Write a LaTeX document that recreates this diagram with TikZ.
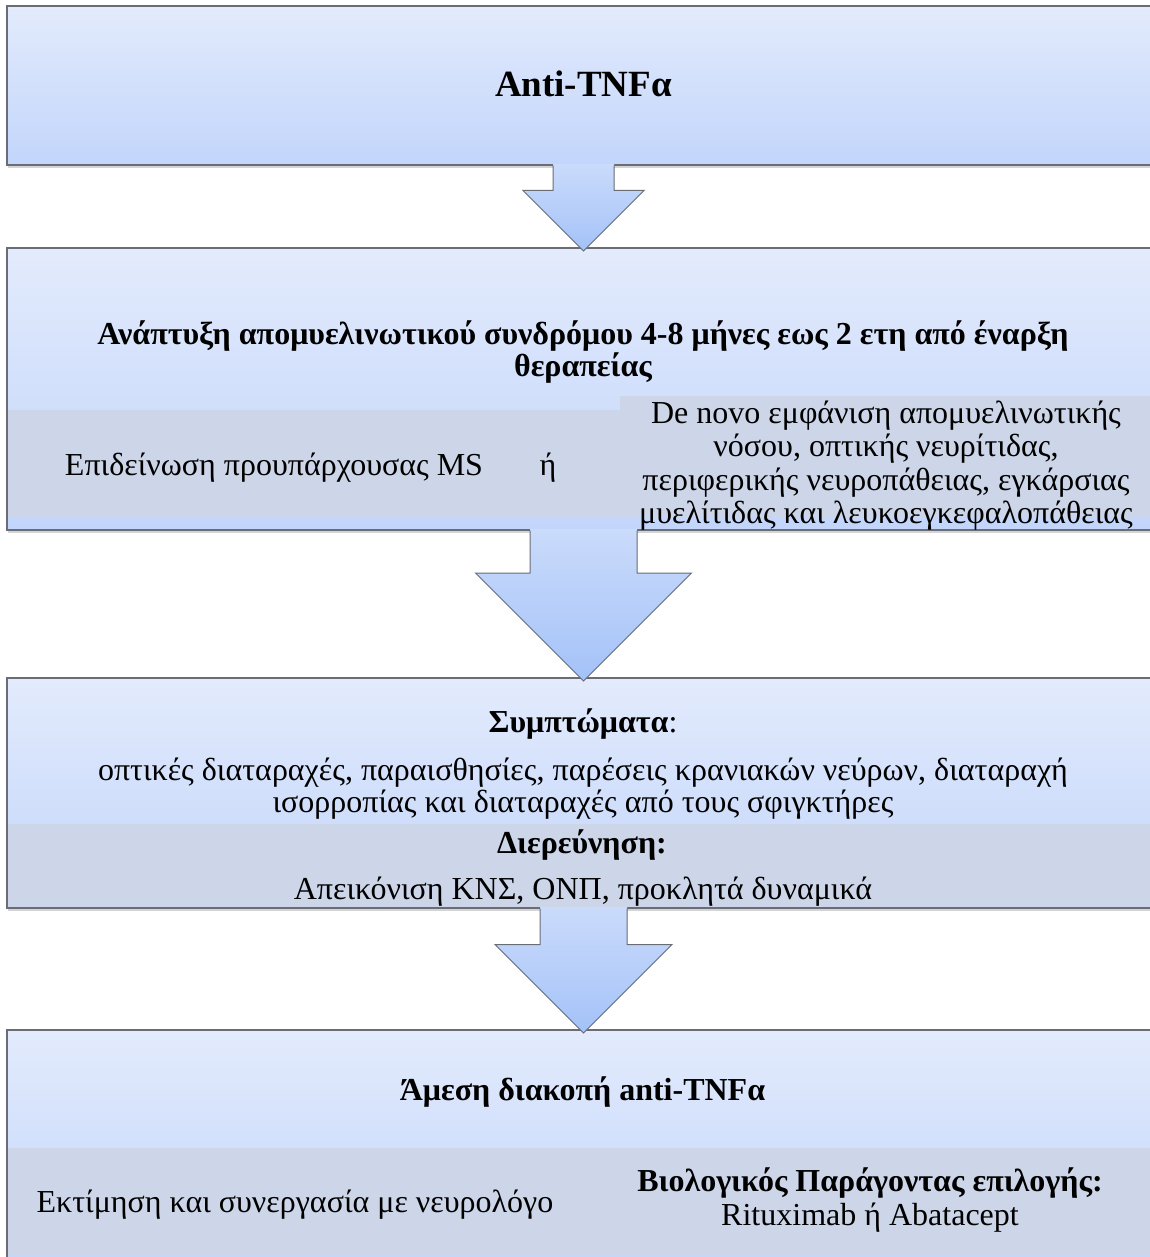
\documentclass[tikz,border=0pt]{standalone}
\usepackage{fontspec}
\setmainfont{Liberation Serif}
\usetikzlibrary{calc,shadows}
\definecolor{boxtop}{HTML}{E3EBFC}
\definecolor{boxbot}{HTML}{C2D5FB}
\definecolor{bandc}{HTML}{CDD6E9}
\definecolor{arrtop}{HTML}{CADBFB}
\definecolor{arrbot}{HTML}{A4C2F8}
\definecolor{edgec}{HTML}{6A6D76}

% block arrow from the bottom of box #1 to the top of box #2;
% #3 = half width of the shaft, #4 = half width (and height) of the head
\newcommand\flowarrow[4]{%
  \path[fill=black,opacity=.18,xshift=2pt,yshift=-2pt]
    let \p1=(#1.south), \p2=(#2.north) in
    (\x1-#3,\y1) -- (\x1-#3,\y2-3pt+#4) -- (\x1-#4,\y2-3pt+#4) -- (\x1,\y2-3pt)
    -- (\x1+#4,\y2-3pt+#4) -- (\x1+#3,\y2-3pt+#4) -- (\x1+#3,\y1) -- cycle;
  \shade[top color=arrtop,bottom color=arrbot]
    let \p1=(#1.south), \p2=(#2.north) in
    (\x1-#3,\y1+0.8pt) -- (\x1-#3,\y2-3pt+#4) -- (\x1-#4,\y2-3pt+#4) -- (\x1,\y2-3pt)
    -- (\x1+#4,\y2-3pt+#4) -- (\x1+#3,\y2-3pt+#4) -- (\x1+#3,\y1+0.8pt) -- cycle;
  \draw[edgec,line width=1pt,line join=miter]
    let \p1=(#1.south), \p2=(#2.north) in
    (\x1-#3,\y1-0.6pt) -- (\x1-#3,\y2-3pt+#4) -- (\x1-#4,\y2-3pt+#4) -- (\x1,\y2-3pt)
    -- (\x1+#4,\y2-3pt+#4) -- (\x1+#3,\y2-3pt+#4) -- (\x1+#3,\y1-0.6pt);
}

\begin{document}
\begin{tikzpicture}[x=1pt,y=-1pt,
  flowbox/.style={rectangle,inner sep=0pt,outer sep=0pt,minimum width=1153pt,
    top color=boxtop,bottom color=boxbot,draw=edgec,line width=1.1pt,
    drop shadow={shadow xshift=1pt,shadow yshift=-3pt,opacity=.3,fill=black!55}},
  txt/.style={anchor=base,inner sep=0pt,font=\fontsize{32}{34}\selectfont},
  btxt/.style={txt,font=\fontsize{32}{34}\selectfont\bfseries},
]
\useasboundingbox (0,0) rectangle (1150,1257);
\clip (0,0) rectangle (1150,1257);
\fill[white] (0,0) rectangle (1150,1257);

% the four stages
\node[flowbox,minimum height=159pt] (b1) at (583.5,85.5) {};
\node[flowbox,minimum height=282pt] (b2) at (583.5,389) {};
\node[flowbox,minimum height=230pt] (b3) at (583.5,793) {};
\node[flowbox,minimum height=232pt] (b4) at (583.5,1146) {};

% grey sub-panels inside the stages
\fill[bandc] (7.6,410) rectangle (1160,518);
\fill[bandc] (620,396) rectangle (1160,518);
\fill[bandc] (7.6,824) rectangle (1160,907.4);
\fill[bandc] (7.6,1148) rectangle (1160,1255);

% connectors
\flowarrow{b1}{b2}{30.5pt}{60.5pt}
\flowarrow{b2}{b3}{53.5pt}{108pt}
\flowarrow{b3}{b4}{43.5pt}{88.5pt}

% stage 1
\node[txt,font=\fontsize{37}{40}\selectfont\bfseries] (t1) at (583.5,97) {Anti-TNFα};

% stage 2
\node[btxt] (t2a) at (583,344) {Ανάπτυξη απομυελινωτικού συνδρόμου 4-8 μήνες εως 2 ετη από έναρξη};
\node[btxt] (t2b) at (583,376) {θεραπείας};
\node[txt] (t2c) at (274,475) {Επιδείνωση προυπάρχουσας MS};
\node[txt] (t2d) at (548,475) {ή};
\node[txt] (t2e) at (886,423) {De novo εμφάνιση απομυελινωτικής};
\node[txt] (t2f) at (886,456.5) {νόσου, οπτικής νευρίτιδας,};
\node[txt] (t2g) at (886,490) {περιφερικής νευροπάθειας, εγκάρσιας};
\node[txt] (t2h) at (886,523) {μυελίτιδας και λευκοεγκεφαλοπάθειας};

% stage 3
\node[txt] (t3a) at (583,732) {{\bfseries Συμπτώματα}:};
\node[txt] (t3b) at (583,780) {οπτικές διαταραχές, παραισθησίες, παρέσεις κρανιακών νεύρων, διαταραχή};
\node[txt] (t3c) at (583,812) {ισορροπίας και διαταραχές από τους σφιγκτήρες};
\node[btxt] (t3d) at (582,853) {Διερεύνηση:};
\node[txt] (t3e) at (583,899) {Απεικόνιση ΚΝΣ, ΟΝΠ, προκλητά δυναμικά};

% stage 4
\node[btxt] (t4a) at (582.5,1100) {Άμεση διακοπή anti-TNFα};
\node[txt] (t4b) at (295,1212) {Εκτίμηση και συνεργασία με νευρολόγο};
\node[btxt] (t4c) at (870,1191) {Βιολογικός Παράγοντας επιλογής:};
\node[txt] (t4d) at (870,1225) {Rituximab ή Abatacept};
\end{tikzpicture}
\end{document}
